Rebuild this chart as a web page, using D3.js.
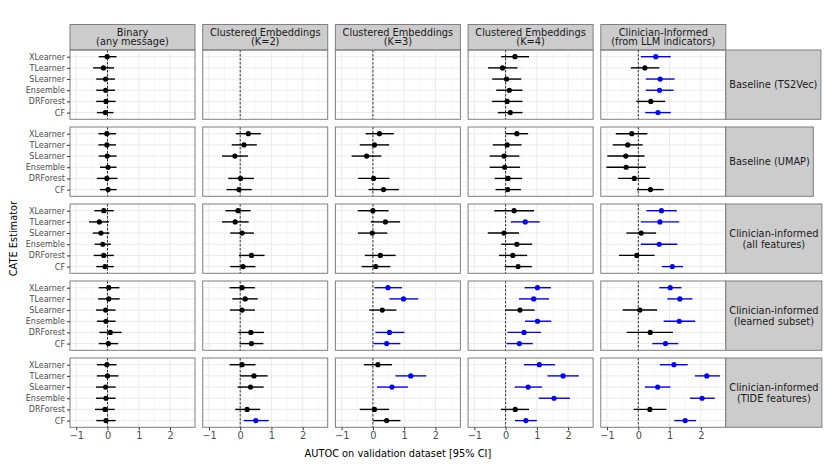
<!DOCTYPE html>
<html>
<head>
<meta charset="utf-8">
<script src="https://cdn.jsdelivr.net/npm/d3@7"></script>
<style>
body { margin: 0; background: #fff; }
text { font-family: "DejaVu Sans", sans-serif; }
</style>
</head>
<body>
<script>
var estimators = ['XLearner', 'TLearner', 'SLearner', 'Ensemble', 'DRForest', 'CF'];

var columns = [
	['Binary', '(any message)'],
	['Clustered Embeddings', '(K=2)'],
	['Clustered Embeddings', '(K=3)'],
	['Clustered Embeddings', '(K=4)'],
	['Clinician-Informed', '(from LLM indicators)']
];

var rows = [
	['Baseline (TS2Vec)'],
	['Baseline (UMAP)'],
	['Clinician-informed', '(all features)'],
	['Clinician-informed', '(learned subset)'],
	['Clinician-informed', '(TIDE features)']
];

var xTicks = [-1, 0, 1, 2];
var xMinor = [-0.5, 0.5, 1.5, 2.5];

// [estimate, lower, upper] for each estimator, one list per column; null = not run
var ts2vec = [
	[[-0.01, -0.28, 0.29], [-0.13, -0.46, 0.21], [-0.06, -0.36, 0.24], [-0.06, -0.36, 0.24], [-0.05, -0.36, 0.26], [-0.07, -0.34, 0.19]],
	[null, null, null, null, null, null],
	[null, null, null, null, null, null],
	[[0.30, -0.14, 0.75], [-0.10, -0.56, 0.38], [0.03, -0.43, 0.50], [0.12, -0.30, 0.54], [0.05, -0.44, 0.54], [0.15, -0.25, 0.54]],
	[[0.56, 0.08, 1.04], [0.21, -0.24, 0.67], [0.70, 0.24, 1.16], [0.68, 0.24, 1.13], [0.40, -0.06, 0.86], [0.63, 0.22, 1.04]]
];

var umap = [
	[[-0.02, -0.29, 0.27], [-0.02, -0.29, 0.27], [-0.01, -0.28, 0.29], [0.02, -0.24, 0.29], [-0.02, -0.34, 0.32], [0.02, -0.24, 0.29]],
	[[0.26, -0.14, 0.66], [0.12, -0.27, 0.53], [-0.17, -0.58, 0.25], null, [0.01, -0.38, 0.44], [-0.04, -0.44, 0.37]],
	[[0.21, -0.23, 0.67], [0.05, -0.42, 0.52], [-0.20, -0.68, 0.27], null, [0.02, -0.48, 0.53], [0.34, -0.14, 0.83]],
	[[0.36, 0.00, 0.72], [0.05, -0.41, 0.51], [-0.05, -0.51, 0.44], [-0.03, -0.51, 0.46], [0.08, -0.35, 0.53], [0.07, -0.32, 0.49]],
	[[-0.21, -0.72, 0.29], [-0.34, -0.82, 0.14], [-0.40, -0.99, 0.20], [-0.39, -1.02, 0.24], [-0.13, -0.65, 0.37], [0.39, -0.04, 0.81]]
];

var allFeatures = [
	[[-0.12, -0.42, 0.20], [-0.26, -0.59, 0.05], [-0.21, -0.47, 0.06], [-0.15, -0.41, 0.11], [-0.12, -0.44, 0.20], [-0.08, -0.36, 0.20]],
	[[-0.07, -0.47, 0.33], [-0.16, -0.58, 0.27], [0.06, -0.32, 0.44], null, [0.36, -0.04, 0.78], [0.09, -0.32, 0.49]],
	[[0.00, -0.49, 0.50], [0.40, -0.07, 0.87], [-0.02, -0.48, 0.46], null, [0.24, -0.26, 0.73], [0.09, -0.36, 0.56]],
	[[0.27, -0.36, 0.91], [0.63, 0.17, 1.09], [-0.05, -0.57, 0.43], [0.36, -0.14, 0.85], [0.23, -0.21, 0.69], [0.40, -0.03, 0.84]],
	[[0.74, 0.26, 1.23], [0.69, 0.08, 1.31], [0.09, -0.38, 0.57], [0.67, 0.08, 1.25], [-0.05, -0.62, 0.52], [1.09, 0.75, 1.43]]
];

var learnedSubset = [
	[[0.04, -0.28, 0.38], [0.04, -0.30, 0.39], [-0.06, -0.37, 0.26], [-0.05, -0.34, 0.26], [0.09, -0.26, 0.45], [0.03, -0.28, 0.34]],
	[[0.06, -0.34, 0.47], [0.16, -0.25, 0.56], [0.06, -0.33, 0.47], null, [0.34, -0.06, 0.76], [0.36, -0.02, 0.74]],
	[[0.48, 0.05, 0.93], [0.98, 0.53, 1.45], [0.30, -0.12, 0.75], null, [0.53, 0.08, 1.01], [0.44, 0.01, 0.88]],
	[[1.02, 0.61, 1.45], [0.90, 0.43, 1.39], [0.46, 0.00, 0.93], [1.02, 0.62, 1.46], [0.59, 0.06, 1.13], [0.44, 0.03, 0.87]],
	[[1.02, 0.67, 1.38], [1.33, 0.93, 1.73], [0.05, -0.50, 0.60], [1.31, 0.81, 1.82], [0.38, -0.37, 1.11], [0.87, 0.45, 1.28]]
];

var tideFeatures = [
	[[-0.02, -0.34, 0.29], [0.00, -0.34, 0.35], [-0.06, -0.37, 0.26], [-0.05, -0.37, 0.26], [-0.08, -0.40, 0.23], [-0.05, -0.36, 0.26]],
	[[0.06, -0.34, 0.49], [0.44, 0.00, 0.88], [0.33, -0.08, 0.75], null, [0.22, -0.16, 0.64], [0.50, 0.11, 0.91]],
	[[0.16, -0.29, 0.61], [1.21, 0.72, 1.71], [0.61, 0.13, 1.12], null, [0.05, -0.42, 0.52], [0.44, 0.00, 0.88]],
	[[1.08, 0.59, 1.58], [1.84, 1.34, 2.34], [0.72, 0.29, 1.17], [1.55, 1.06, 2.06], [0.31, -0.15, 0.75], [0.65, 0.30, 1.00]],
	[[1.14, 0.69, 1.58], [2.19, 1.81, 2.61], [0.62, 0.21, 1.03], [2.04, 1.65, 2.45], [0.37, -0.15, 0.90], [1.50, 1.15, 1.85]]
];

var results = [ts2vec, umap, allFeatures, learnedSubset, tideFeatures];

var width = 830,
	height = 475;

var marginLeft = 70,
	marginTop = 50,
	panelW = 125,
	panelH = 69.3,
	gapX = 7.7,
	gapY = 7.7,
	stripH = 25.5;

var border = '#7f7f7f',
	stripFill = '#cccccc',
	gridColor = '#ebebeb';

var svg = d3.select('body')
	.append('svg')
	.attr('width', width)
	.attr('height', height);

var x = d3.scaleLinear().domain([-1.2, 2.8]).range([0, panelW]);
var y = d3.scalePoint().domain(estimators).range([0, panelH]).padding(0.6);

function panelX(c) { return marginLeft + c * (panelW + gapX); }
function panelY(r) { return marginTop + r * (panelH + gapY); }

// column strips
columns.forEach(function(lines, c) {
	var g = svg.append('g').attr('transform', 'translate(' + panelX(c) + ',' + (marginTop - stripH) + ')');
	g.append('rect')
		.attr('width', panelW)
		.attr('height', stripH)
		.attr('fill', stripFill)
		.attr('stroke', border)
		.attr('stroke-width', 1);
	g.selectAll('text')
		.data(lines)
		.enter()
		.append('text')
		.attr('x', panelW / 2)
		.attr('y', function(d, i) { return 11 + i * 9.8; })
		.attr('text-anchor', 'middle')
		.attr('font-size', 9.8)
		.attr('fill', '#1a1a1a')
		.text(function(d) { return d; });
});

results.forEach(function(rowData, r) {
	rowData.forEach(function(panel, c) {
		var g = svg.append('g').attr('transform', 'translate(' + panelX(c) + ',' + panelY(r) + ')');

		g.selectAll('.minor')
			.data(xMinor)
			.enter()
			.append('line')
			.attr('x1', x).attr('x2', x)
			.attr('y1', 0).attr('y2', panelH)
			.attr('stroke', '#f3f3f3')
			.attr('stroke-width', 0.6);

		g.selectAll('.vgrid')
			.data(xTicks)
			.enter()
			.append('line')
			.attr('x1', x).attr('x2', x)
			.attr('y1', 0).attr('y2', panelH)
			.attr('stroke', gridColor)
			.attr('stroke-width', 1);

		g.selectAll('.hgrid')
			.data(estimators)
			.enter()
			.append('line')
			.attr('x1', 0).attr('x2', panelW)
			.attr('y1', y).attr('y2', y)
			.attr('stroke', gridColor)
			.attr('stroke-width', 1);

		g.append('line')
			.attr('x1', x(0)).attr('x2', x(0))
			.attr('y1', 0).attr('y2', panelH)
			.attr('stroke', '#000')
			.attr('stroke-width', 0.8)
			.attr('stroke-dasharray', '2.5,1.5');

		var pts = panel.map(function(v, i) {
			return v ? { name: estimators[i], est: v[0], lo: v[1], hi: v[2] } : null;
		}).filter(function(d) { return d; });

		function colour(d) { return d.lo > 0 ? '#0000ff' : '#000000'; }

		g.selectAll('.ci')
			.data(pts)
			.enter()
			.append('line')
			.attr('x1', function(d) { return x(d.lo); })
			.attr('x2', function(d) { return x(d.hi); })
			.attr('y1', function(d) { return y(d.name); })
			.attr('y2', function(d) { return y(d.name); })
			.attr('stroke', colour)
			.attr('stroke-width', 1.4);

		g.selectAll('.pt')
			.data(pts)
			.enter()
			.append('circle')
			.attr('cx', function(d) { return x(d.est); })
			.attr('cy', function(d) { return y(d.name); })
			.attr('r', 2.6)
			.attr('fill', colour);

		g.append('rect')
			.attr('width', panelW)
			.attr('height', panelH)
			.attr('fill', 'none')
			.attr('stroke', border)
			.attr('stroke-width', 1);

		if (c === 0) {
			var ya = g.append('g').call(d3.axisLeft(y).tickSize(3).tickPadding(2));
			ya.select('.domain').remove();
			ya.selectAll('line').attr('stroke', '#333');
			ya.selectAll('text')
				.attr('font-size', 8)
				.attr('font-family', 'DejaVu Sans')
				.attr('fill', '#4d4d4d');
		}
		if (r === results.length - 1) {
			var xa = g.append('g')
				.attr('transform', 'translate(0,' + panelH + ')')
				.call(d3.axisBottom(x).tickValues(xTicks).tickFormat(d3.format('d')).tickSize(3).tickPadding(2));
			xa.select('.domain').remove();
			xa.selectAll('line').attr('stroke', '#333');
			xa.selectAll('text')
				.attr('font-size', 9.8)
				.attr('font-family', 'DejaVu Sans')
				.attr('fill', '#4d4d4d');
		}
	});

	// row strip, sized to its label
	var sx = panelX(columns.length) - gapX;
	var sg = svg.append('g').attr('transform', 'translate(' + sx + ',' + panelY(r) + ')');
	var rect = sg.append('rect')
		.attr('height', panelH)
		.attr('fill', stripFill)
		.attr('stroke', border)
		.attr('stroke-width', 1);
	var n = rows[r].length;
	var labels = sg.selectAll('text')
		.data(rows[r])
		.enter()
		.append('text')
		.attr('y', function(d, i) { return panelH / 2 + 3.5 + (i - (n - 1) / 2) * 11; })
		.attr('font-size', 9.8)
		.attr('fill', '#1a1a1a')
		.attr('text-anchor', 'middle')
		.text(function(d) { return d; });
	var w = 0;
	labels.each(function() { w = Math.max(w, this.getComputedTextLength()); });
	var sw = w + 7;
	rect.attr('width', sw);
	labels.attr('x', sw / 2);
});

svg.append('text')
	.attr('x', (marginLeft + panelX(columns.length) - gapX) / 2)
	.attr('y', 457)
	.attr('text-anchor', 'middle')
	.attr('font-size', 9.8)
	.attr('fill', '#000')
	.text('AUTOC on validation dataset [95% CI]');

svg.append('text')
	.attr('transform', 'translate(17,' + (marginTop + (panelY(rows.length - 1) + panelH - marginTop) / 2) + ') rotate(-90)')
	.attr('text-anchor', 'middle')
	.attr('font-size', 9.8)
	.attr('fill', '#000')
	.text('CATE Estimator');
</script>
</body>
</html>
